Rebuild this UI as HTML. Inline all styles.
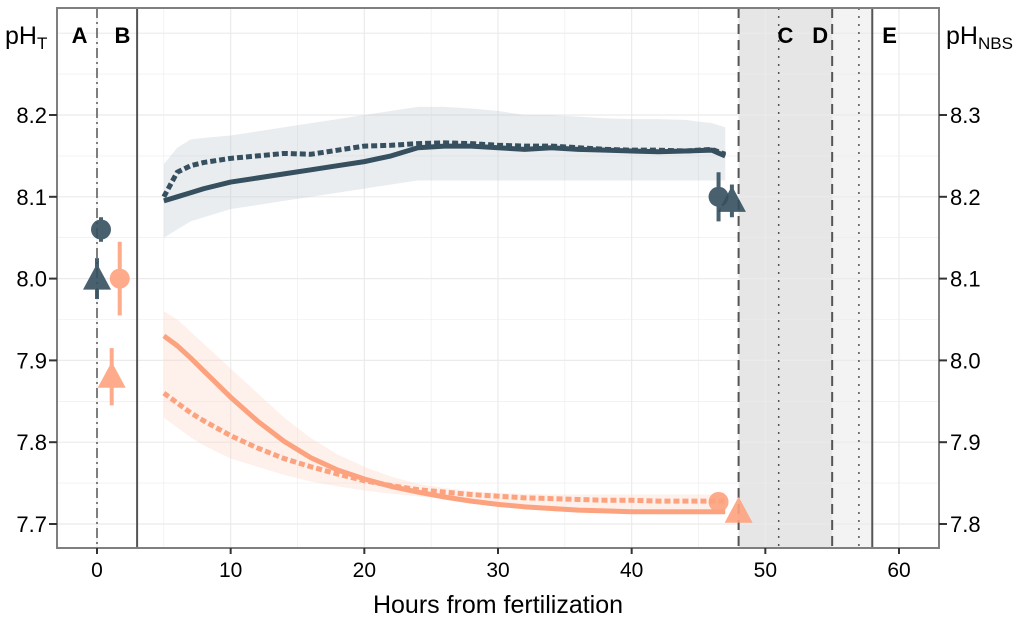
<!DOCTYPE html>
<html><head><meta charset="utf-8">
<style>
html,body{margin:0;padding:0;background:#fff;width:1024px;height:622px;overflow:hidden;}
svg{display:block;}
svg text{font-family:"Liberation Sans",Arial,sans-serif;}
</style></head>
<body>
<svg id="chart" width="1024" height="622" viewBox="0 0 1024 622" xmlns="http://www.w3.org/2000/svg">
<text x="5" y="44" font-size="25">pH<tspan font-size="17" dy="5">T</tspan></text>
<text x="946" y="44" font-size="25">pH<tspan font-size="17" dy="5">NBS</tspan></text>
<text x="498" y="613" font-size="25" text-anchor="middle">Hours from fertilization</text>
</svg>
<script>
// ---- data ----
const hours = [5,6,7,8,10,12,14,16,18,20,22,24,26,28,30,32,34,36,38,40,42,44,46,47];
const darkSolid = [8.095,8.100,8.105,8.110,8.118,8.123,8.128,8.133,8.138,8.143,8.150,8.160,8.162,8.162,8.160,8.158,8.160,8.158,8.157,8.156,8.155,8.156,8.157,8.150];
const darkDashed = [8.100,8.130,8.138,8.142,8.147,8.150,8.153,8.152,8.157,8.162,8.163,8.165,8.166,8.165,8.163,8.162,8.162,8.160,8.158,8.157,8.157,8.156,8.158,8.152];
const orangeSolid = [7.930,7.918,7.903,7.887,7.855,7.826,7.801,7.781,7.766,7.755,7.746,7.739,7.733,7.728,7.724,7.721,7.719,7.717,7.716,7.715,7.715,7.715,7.715,7.715];
const orangeDashed = [7.860,7.848,7.836,7.826,7.808,7.793,7.780,7.770,7.761,7.753,7.747,7.742,7.739,7.736,7.734,7.732,7.731,7.730,7.729,7.729,7.728,7.728,7.728,7.728];
const darkBandLo = [8.050,8.060,8.070,8.075,8.085,8.090,8.095,8.100,8.105,8.110,8.115,8.120,8.120,8.120,8.120,8.120,8.120,8.120,8.120,8.120,8.120,8.120,8.120,8.120];
const darkBandHi = [8.140,8.160,8.170,8.172,8.175,8.180,8.185,8.190,8.195,8.200,8.205,8.210,8.210,8.208,8.205,8.200,8.200,8.198,8.196,8.195,8.195,8.194,8.190,8.185];
const orangeBandLo = [7.830,7.818,7.806,7.796,7.780,7.770,7.760,7.752,7.746,7.741,7.737,7.734,7.731,7.728,7.724,7.720,7.718,7.716,7.714,7.713,7.712,7.712,7.712,7.712];
const orangeBandHi = [7.960,7.950,7.935,7.920,7.890,7.860,7.830,7.805,7.785,7.770,7.758,7.749,7.744,7.740,7.738,7.737,7.736,7.736,7.736,7.736,7.736,7.736,7.736,7.736];
const ptHours = [0.3,0,1.7,1.1,46.5,47.5,46.5,48];
const ptValues = [8.06,8.00,8.00,7.88,8.10,8.095,7.727,7.715];
const ptErrs = [0.015,0.025,0.045,0.035,0.03,0.02,0,0];
const ptShapes = ['c','t','c','t','c','t','c','t'];
const ptSeries = ['d','d','o','o','d','d','o','o'];
const xTicks = [0,10,20,30,40,50,60];
const yTicks = [7.7,7.8,7.9,8.0,8.1,8.2];
const yTicksR = [7.8,7.9,8.0,8.1,8.2,8.3];

// ---- scales ----
const L=57,R=939,T=8,B=548;
const X=h=>97+h*(802/60);
const Y=v=>524-(v-7.7)*818;
const svg=document.getElementById('chart');
const NS='http://www.w3.org/2000/svg';
function mk(tag,attrs,parent){const e=document.createElementNS(NS,tag);for(const k in attrs)e.setAttribute(k,attrs[k]);(parent||svg).appendChild(e);return e;}
const DARK='#36505f',ORANGE='#fda27e';

let g=mk('g',{});


mk('rect',{x:L,y:T,width:R-L,height:B-T,fill:'#fff'},g);
let s1=mk('rect',{x:X(48),y:T,width:X(55)-X(48),height:B-T,fill:'#e6e6e6'});


let s2=mk('rect',{x:X(55),y:T,width:X(58)-X(55),height:B-T,fill:'#f3f3f3'});



let grid=mk('g',{stroke:'#ebebeb','stroke-width':1});


for(let h=-5;h<=65;h+=5){const x=X(h);if(x>L&&x<R)mk('line',{x1:x,x2:x,y1:T,y2:B,'stroke-width':h%10===0?1.2:0.6},grid);}
for(let v=7.65;v<=8.36;v+=0.05){const y=Y(v);if(y>T&&y<B)mk('line',{x1:L,x2:R,y1:y,y2:y,'stroke-width':Math.abs(Math.round(v*10)-v*10)<0.01?1.2:0.6},grid);}

function band(lo,hi,fill,op,name){
  let d='M'+hours.map((h,i)=>X(h)+','+Y(hi[i])).join('L');
  d+='L'+hours.slice().reverse().map((h,j)=>X(h)+','+Y(lo[hours.length-1-j])).join('L')+'Z';
  const p=mk('path',{d:d,fill:fill,'fill-opacity':op});
  
  
}
band(darkBandLo,darkBandHi,'#b8c4cc',0.3,'dark-ribbon');
band(orangeBandLo,orangeBandHi,'#fdd5c2',0.35,'orange-ribbon');

function line(vals,col,dash,name){
  const p=mk('path',{d:'M'+hours.map((h,i)=>X(h)+','+Y(vals[i])).join('L'),fill:'none',stroke:col,'stroke-width':5,'stroke-dasharray':dash||'none','stroke-linejoin':'round'});
  
  
}
line(darkSolid,DARK,null,'dark-solid-line');
line(darkDashed,DARK,'6,3','dark-dashed-line');
line(orangeSolid,ORANGE,null,'orange-solid-line');
line(orangeDashed,ORANGE,'6,3','orange-dashed-line');

function vline(h,dash,w,name){const l=mk('line',{x1:X(h),x2:X(h),y1:T,y2:B,stroke:'#555','stroke-width':w,'stroke-dasharray':dash});

}
vline(0,'10,4,2,4',1.5,'marker-a');
vline(3,'none',2,'marker-b');
vline(48,'10,6',2,'marker-c-start');
vline(51,'2,6',1.5,'marker-c');
vline(55,'10,6',2,'marker-d');
vline(57,'2,6',1.5,'marker-d-end');
vline(58,'none',2,'marker-e');

for(let i=0;i<ptHours.length;i++){
  const col=ptSeries[i]==='d'?DARK:ORANGE;
  const x=X(ptHours[i]),y=Y(ptValues[i]);
  const pg=mk('g',{opacity:0.9});
  
  
  if(ptErrs[i]>0)mk('line',{x1:x,x2:x,y1:Y(ptValues[i]+ptErrs[i]),y2:Y(ptValues[i]-ptErrs[i]),stroke:col,'stroke-width':4},pg);
  if(ptShapes[i]==='c')mk('circle',{cx:x,cy:y,r:10,fill:col},pg);
  else mk('polygon',{points:`${x},${y-15} ${x-14},${y+11} ${x+14},${y+11}`,fill:col},pg);
}

let br=mk('rect',{x:L,y:T,width:R-L,height:B-T,fill:'none',stroke:'#7f7f7f','stroke-width':2});



[['A',-1.3],['B',1.9],['C',51.5],['D',54.1],['E',59.3]].forEach(([t,h])=>{
  const e=mk('text',{x:X(h),y:43,'font-size':22,'font-weight':'bold','text-anchor':'middle',fill:'#000'});
  e.textContent=t;
  
  
});

let ax=mk('g',{});


xTicks.forEach(t=>{mk('line',{x1:X(t),x2:X(t),y1:B,y2:B+6,stroke:'#333','stroke-width':2},ax);
  const e=mk('text',{x:X(t),y:B+29,'font-size':21,'text-anchor':'middle',fill:'#000'},ax);e.textContent=t;});
let ayl=mk('g',{});


yTicks.forEach(t=>{const y=Y(t);mk('line',{x1:L-8,x2:L,y1:y,y2:y,stroke:'#333','stroke-width':2},ayl);
  const e=mk('text',{x:L-10,y:y+8,'font-size':22,'text-anchor':'end',fill:'#000'},ayl);e.textContent=t.toFixed(1);});
let ayr=mk('g',{});


yTicksR.forEach(t=>{const y=Y(t-0.1);mk('line',{x1:R,x2:R+8,y1:y,y2:y,stroke:'#333','stroke-width':2},ayr);
  const e=mk('text',{x:R+11,y:y+8,'font-size':22,'text-anchor':'start',fill:'#000'},ayr);e.textContent=t.toFixed(1);});
</script>
</body></html>
